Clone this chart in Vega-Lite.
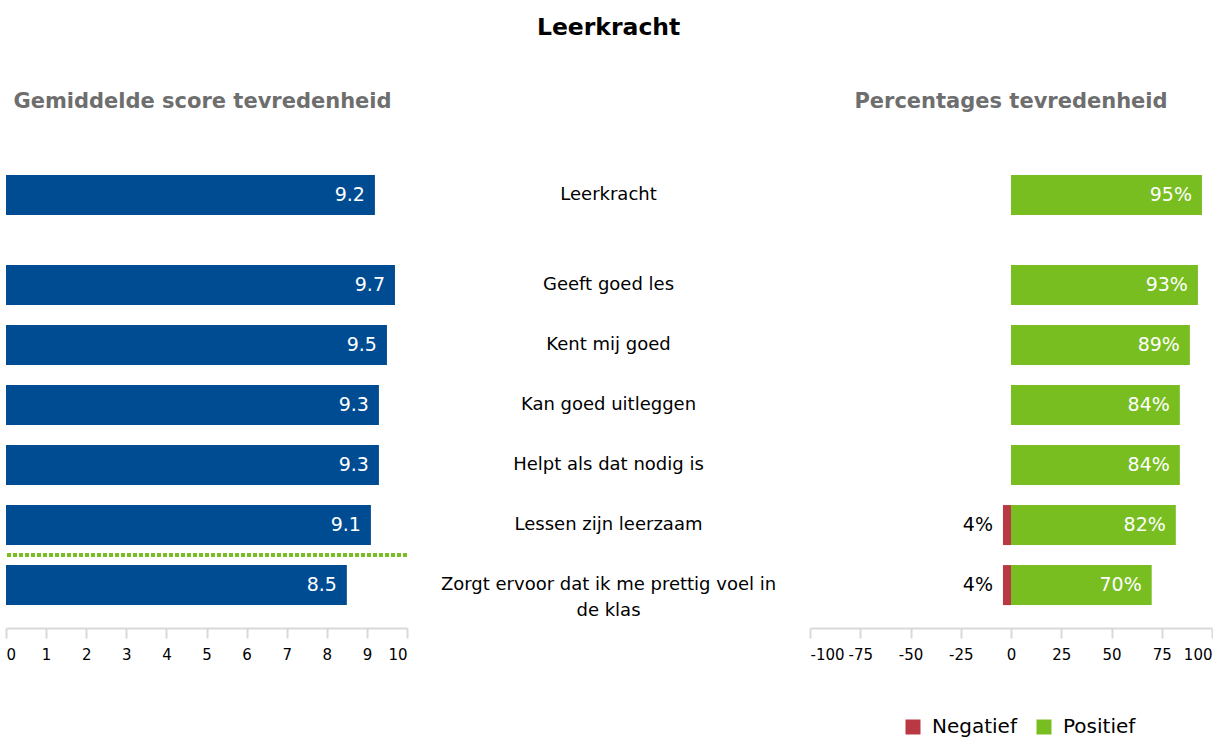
{
  "$schema": "https://vega.github.io/schema/vega-lite/v6.json",
  "padding": {"left": 4, "top": 15, "right": 0, "bottom": 0},
  "bounds": "flush",
  "spacing": 0,
  "title": {"text": "Leerkracht", "fontSize": 23.5, "font": "DejaVu Sans", "fontWeight": "bold", "anchor": "middle", "offset": 52, "color": "#000000"},
  "config": {
    "view": {"stroke": null},
    "font": "DejaVu Sans"
  },
  "datasets": {
    "scores": [
      {"item": "Leerkracht", "score": 9.2},
      {"item": "Geeft goed les", "score": 9.7},
      {"item": "Kent mij goed", "score": 9.5},
      {"item": "Kan goed uitleggen", "score": 9.3},
      {"item": "Helpt als dat nodig is", "score": 9.3},
      {"item": "Lessen zijn leerzaam", "score": 9.1},
      {"item": "Zorgt ervoor dat ik me prettig voel in\nde klas", "score": 8.5}
    ],
    "pcts": [
      {"item": "Leerkracht", "kind": "Positief", "pct": 95},
      {"item": "Geeft goed les", "kind": "Positief", "pct": 93},
      {"item": "Kent mij goed", "kind": "Positief", "pct": 89},
      {"item": "Kan goed uitleggen", "kind": "Positief", "pct": 84},
      {"item": "Helpt als dat nodig is", "kind": "Positief", "pct": 84},
      {"item": "Lessen zijn leerzaam", "kind": "Positief", "pct": 82},
      {"item": "Lessen zijn leerzaam", "kind": "Negatief", "pct": -4},
      {"item": "Zorgt ervoor dat ik me prettig voel in\nde klas", "kind": "Positief", "pct": 70},
      {"item": "Zorgt ervoor dat ik me prettig voel in\nde klas", "kind": "Negatief", "pct": -4}
    ]
  },
  "hconcat": [
    {
      "width": 401,
      "height": 476,
      "title": {"text": "Gemiddelde score tevredenheid", "fontSize": 21, "fontWeight": "bold", "color": "#6E6E6E", "anchor": "middle", "offset": 40, "dx": -4},
      "data": {"name": "scores"},
      "layer": [
        {
          "mark": {"type": "bar", "height": 40, "color": "#004C93"},
          "encoding": {
            "y": {"field": "item", "type": "nominal", "axis": null,
              "scale": {"type": "band", "domain": ["Leerkracht", "_1", "_2", "Geeft goed les", "_3", "Kent mij goed", "_4", "Kan goed uitleggen", "_5", "Helpt als dat nodig is", "_6", "Lessen zijn leerzaam", "_7", "Zorgt ervoor dat ik me prettig voel in\nde klas"], "paddingInner": 0, "paddingOuter": 0.93}},
            "x": {"field": "score", "type": "quantitative", "scale": {"domain": [0, 10]},
              "axis": {"values": [0, 1, 2, 3, 4, 5, 6, 7, 8, 9, 10], "title": null, "grid": false, "domainColor": "#D9D9D9", "domainWidth": 2, "tickColor": "#D9D9D9", "tickWidth": 2, "tickSize": 10, "labelPadding": 9, "labelFontSize": 15, "labelColor": "#000000", "labelFlush": true, "labelOverlap": false}}
          }
        },
        {
          "mark": {"type": "text", "align": "right", "baseline": "middle", "dx": -10, "color": "#FFFFFF", "fontSize": 19},
          "encoding": {
            "y": {"field": "item", "type": "nominal"},
            "x": {"field": "score", "type": "quantitative"},
            "text": {"field": "score", "type": "quantitative", "format": ".1f"}
          }
        },
        {
          "mark": {"type": "rule", "color": "#78BE20", "strokeWidth": 3.5, "strokeDash": [3.5, 2.5]},
          "encoding": {"y": {"datum": "_7", "type": "nominal"}}
        }
      ]
    },
    {
      "width": 403,
      "height": 476,
      "data": {"name": "scores"},
      "mark": {"type": "text", "fontSize": 18, "lineBreak": "\n", "lineHeight": 26, "color": "#000000", "baseline": "middle"},
      "encoding": {
        "y": {"field": "item", "type": "nominal", "axis": null,
          "scale": {"type": "band", "domain": ["Leerkracht", "_1", "_2", "Geeft goed les", "_3", "Kent mij goed", "_4", "Kan goed uitleggen", "_5", "Helpt als dat nodig is", "_6", "Lessen zijn leerzaam", "_7", "Zorgt ervoor dat ik me prettig voel in\nde klas"], "paddingInner": 0, "paddingOuter": 0.93}},
        "text": {"field": "item", "type": "nominal"}
      }
    },
    {
      "width": 402,
      "height": 476,
      "title": {"text": "Percentages tevredenheid", "fontSize": 21, "fontWeight": "bold", "color": "#6E6E6E", "anchor": "middle", "offset": 40},
      "data": {"name": "pcts"},
      "transform": [{"calculate": "abs(datum.pct) + '%'", "as": "label"}],
      "layer": [
        {
          "mark": {"type": "bar", "height": 40},
          "encoding": {
            "y": {"field": "item", "type": "nominal", "axis": null,
              "scale": {"type": "band", "domain": ["Leerkracht", "_1", "_2", "Geeft goed les", "_3", "Kent mij goed", "_4", "Kan goed uitleggen", "_5", "Helpt als dat nodig is", "_6", "Lessen zijn leerzaam", "_7", "Zorgt ervoor dat ik me prettig voel in\nde klas"], "paddingInner": 0, "paddingOuter": 0.93}},
            "x": {"field": "pct", "type": "quantitative", "scale": {"domain": [-100, 100]},
              "axis": {"values": [-100, -75, -50, -25, 0, 25, 50, 75, 100], "labelExpr": "datum.value < 0 ? '-' + abs(datum.value) : '' + datum.value", "title": null, "grid": false, "domainColor": "#D9D9D9", "domainWidth": 2, "tickColor": "#D9D9D9", "tickWidth": 2, "tickSize": 10, "labelPadding": 9, "labelFontSize": 15, "labelColor": "#000000", "labelFlush": true, "labelOverlap": false}},
            "color": {"field": "kind", "type": "nominal",
              "scale": {"domain": ["Negatief", "Positief"], "range": ["#B83943", "#78BE20"]},
              "legend": {"title": null, "orient": "none", "legendX": 897, "legendY": 565, "direction": "horizontal", "symbolType": "square", "symbolSize": 225, "symbolStrokeWidth": 0, "labelFontSize": 20, "labelOffset": 9, "columnPadding": 17, "labelColor": "#000000"}}
          }
        },
        {
          "mark": {"type": "text", "align": "right", "baseline": "middle", "dx": -10, "fontSize": 19},
          "encoding": {
            "y": {"field": "item", "type": "nominal"},
            "x": {"field": "pct", "type": "quantitative"},
            "text": {"field": "label", "type": "nominal"},
            "color": {"condition": {"test": "datum.kind == 'Negatief'", "value": "#000000"}, "value": "#FFFFFF"}
          }
        }
      ]
    }
  ]
}
